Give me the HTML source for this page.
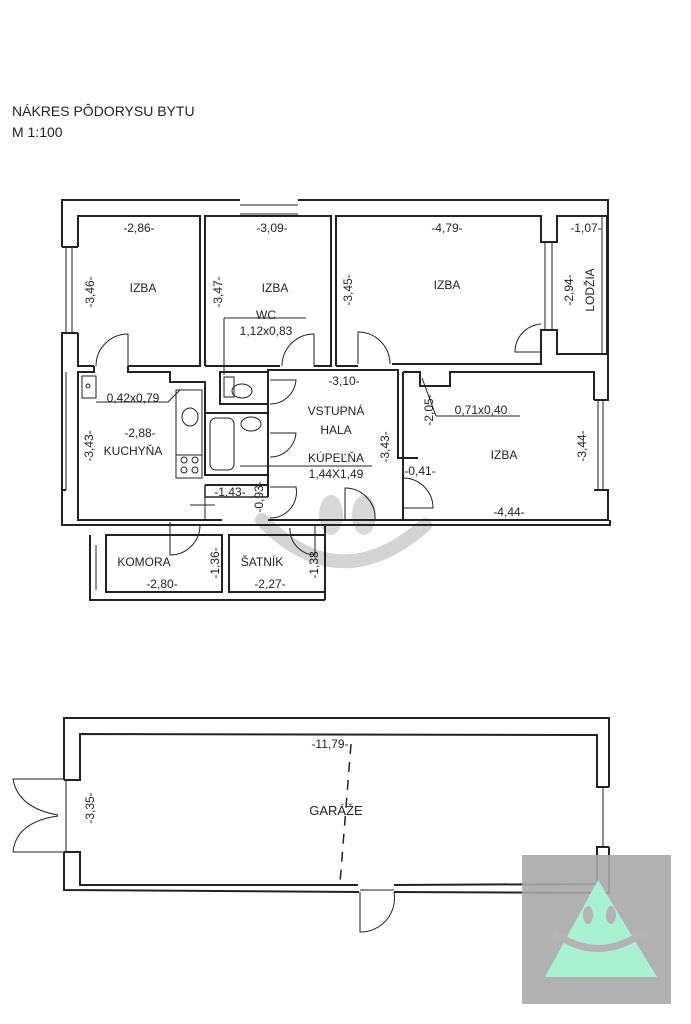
<!DOCTYPE html>
<html><head><meta charset="utf-8"><style>
html,body{margin:0;padding:0;background:#fff;}
svg{display:block}
text{font-family:"Liberation Sans",sans-serif;fill:#222;}
</style></head><body>
<svg width="691" height="1024" viewBox="0 0 691 1024" xmlns="http://www.w3.org/2000/svg">
<rect width="691" height="1024" fill="#fff"/>
<text x="12" y="116" font-size="14">NÁKRES PÔDORYSU BYTU</text>
<text x="12" y="137" font-size="14">M 1:100</text>

<!-- watermark -->
<g fill="none" stroke="#d4d4d4" stroke-width="14" stroke-linecap="round">
<path d="M262 520 Q340 600 425 525"/>
</g>
<ellipse cx="331" cy="515" rx="12" ry="20" fill="#d8d8d8"/>
<ellipse cx="364" cy="515" rx="12" ry="20" fill="#d8d8d8"/>

<g fill="none" stroke="#222" stroke-width="2">
<polyline points="62,247 62,200 240,200"/>
<polyline points="298,200 608,200 608,400"/>
<line x1="240" y1="205" x2="298" y2="205" stroke-width="1"/>
<line x1="240" y1="214" x2="298" y2="214" stroke-width="1"/>
<polyline points="62,247 78,247"/>
<line x1="66" y1="247" x2="66" y2="333" stroke-width="1"/>
<line x1="72" y1="247" x2="72" y2="333" stroke-width="1"/>
<polyline points="78,333 62,333 62,490 66,490"/>
<polyline points="78,247 78,216 200,216 200,366 128,366"/>
<polyline points="78,333 78,366 94,366"/>
<polyline points="205,366 205,216 331,216 331,366 314,366"/>
<polyline points="205,366 280,366"/>
<polyline points="336,366 336,216 541,216 541,242 557,242 557,216 607,216 607,354 557,354 557,330 541,330 541,364 392,364"/>
<polyline points="336,366 358,366"/>
<line x1="545" y1="242" x2="545" y2="330" stroke-width="1"/>
<line x1="552" y1="242" x2="552" y2="330" stroke-width="1"/>
<line x1="602" y1="216" x2="602" y2="354" stroke-width="1"/>
<polyline points="608,354 608,400 594,400"/>

<polyline points="94,366 94,372 78,372 78,520 222,520"/>
<polyline points="128,366 128,372 170,372 170,382 205,382 205,413"/>
<polyline points="62,490 62,525 78,525"/>
<line x1="66" y1="372" x2="66" y2="490" stroke-width="1"/>
<rect x="205" y="413" width="63" height="62" stroke-width="2"/>
<rect x="210" y="418" width="24" height="52" rx="6" stroke-width="1"/>
<ellipse cx="251" cy="424" rx="10" ry="7" stroke-width="1"/>
<polyline points="205,485 205,497 268,497" stroke-width="1.5"/>
<polyline points="205,485 268,485"/>
<rect x="220" y="372" width="48" height="32" stroke-width="2"/>
<rect x="224" y="377" width="10" height="20" stroke-width="1"/>
<ellipse cx="242" cy="391" rx="10" ry="7" stroke-width="1"/>
<rect x="176" y="390" width="26" height="88" stroke-width="1"/>
<line x1="176" y1="455" x2="202" y2="455" stroke-width="1"/>
<ellipse cx="190" cy="417" rx="8" ry="9" stroke-width="1"/>
<circle cx="184" cy="460" r="3" stroke-width="1"/><circle cx="195" cy="460" r="3" stroke-width="1"/>
<circle cx="184" cy="470" r="3" stroke-width="1"/><circle cx="195" cy="470" r="3" stroke-width="1"/>
<rect x="82" y="376" width="14" height="22" stroke-width="1"/>
<circle cx="88" cy="386" r="2" stroke-width="1"/>
<polyline points="270,370 398,370 398,458 403,458 403,520 268,520"/>
<polyline points="268,497 268,370 270,370"/>
<polyline points="403,372 403,520 594,520"/>
<polyline points="403,372 420,372 420,386 450,386 450,372 594,372 594,400"/>
<polyline points="594,490 608,490 608,520 594,520"/>
<line x1="598" y1="400" x2="598" y2="490" stroke-width="1"/>
<line x1="603" y1="400" x2="603" y2="490" stroke-width="1"/>
<polyline points="403,458 418,458"/>
<polyline points="78,525 610,525 610,520"/>
<polyline points="90,535 90,600 325,600"/>
<rect x="106" y="535" width="116" height="57"/>
<rect x="229" y="535" width="96" height="57"/>
<line x1="96" y1="545" x2="96" y2="590" stroke-width="1"/>
<polyline points="325,525 325,600"/>

<g stroke-width="1">
<path d="M128 366 L128 334 A32 32 0 0 0 96 366"/>
<path d="M314 366 L314 334 A32 32 0 0 0 282 366"/>
<path d="M358 364 L358 332 A32 32 0 0 1 390 364"/>
<path d="M541 324 A28 28 0 0 0 515 352 L541 352"/>
<path d="M270 380 L296 380 A26 26 0 0 1 270 404"/>
<path d="M270 433 L296 433 A26 26 0 0 1 270 457"/>
<path d="M270 487 L296 487 A26 26 0 0 1 270 518"/>
<path d="M345 520 L345 488 A30 30 0 0 1 375 520"/>
<path d="M403 478 A30 30 0 0 1 433 508 L403 508"/>
<path d="M170 522 L170 555 A30 30 0 0 0 200 525"/>
<path d="M315 525 L315 555 A26 26 0 0 1 290 528"/>
</g>
<g stroke-width="1">
<polyline points="96,402 168,402 180,390"/>
<polyline points="224,318 306,318"/>
<line x1="224" y1="318" x2="224" y2="375"/>
<polyline points="436,416 520,416"/>
<line x1="436" y1="416" x2="422" y2="378"/>
<line x1="240" y1="466" x2="372" y2="466"/>
<line x1="190" y1="505" x2="215" y2="505"/>
<line x1="205" y1="497" x2="205" y2="520"/>
</g>

<!-- GARAGE -->
<polyline points="64,780 64,718 609,718 609,787"/>
<polyline points="64,852 64,890 359,892"/>
<polyline points="394,892 609,893 609,847"/>
<polyline points="64,780 80,780 80,734 597,735 597,787 609,787"/>
<polyline points="64,852 80,852 80,885 358,885"/>
<polyline points="394,885 597,884 597,847 609,847"/>
<line x1="603" y1="787" x2="603" y2="847" stroke-width="1"/>
<line x1="66" y1="780" x2="66" y2="852" stroke-width="1"/>
<g stroke-width="1">
<path d="M64 779 L13 779 Q18 808 58 815"/>
<path d="M64 852 L13 852 Q16 822 58 816"/>
<path d="M360 892 L360 932 A34 34 0 0 0 394 892"/>
<line x1="360" y1="890" x2="394" y2="890"/>
</g>
<line x1="351" y1="744" x2="340" y2="883" stroke-width="1.5" stroke-dasharray="10 8"/>
</g>

<g font-size="12" text-anchor="middle">
<text x="139" y="232">-2,86-</text>
<text x="272" y="232">-3,09-</text>
<text x="447" y="232">-4,79-</text>
<text x="586" y="232">-1,07-</text>
<text x="143" y="292">IZBA</text>
<text x="275" y="292">IZBA</text>
<text x="447" y="289">IZBA</text>
<text x="266" y="319">WC</text>
<text x="266" y="335">1,12x0,83</text>
<text x="133" y="402">0,42x0,79</text>
<text x="344" y="385">-3,10-</text>
<text x="336" y="415">VSTUPNÁ</text>
<text x="336" y="434">HALA</text>
<text x="336" y="462">KÚPEĽŇA</text>
<text x="336" y="478">1,44X1,49</text>
<text x="140" y="437">-2,88-</text>
<text x="133" y="455">KUCHYŇA</text>
<text x="230" y="496">-1,43-</text>
<text x="481" y="414">0,71x0,40</text>
<text x="504" y="459">IZBA</text>
<text x="509" y="516">-4,44-</text>
<text x="420" y="475">-0,41-</text>
<text x="144" y="566">KOMORA</text>
<text x="162" y="588">-2,80-</text>
<text x="262" y="566">ŠATNÍK</text>
<text x="270" y="588">-2,27-</text>
<text x="330" y="748">-11,79-</text>
<text x="336" y="815" font-size="13">GARÁŽE</text>
</g>
<g font-size="12" text-anchor="middle">
<text transform="translate(94,292) rotate(-90)">-3,46-</text>
<text transform="translate(222,292) rotate(-90)">-3,47-</text>
<text transform="translate(352,290) rotate(-90)">-3,45-</text>
<text transform="translate(573,290) rotate(-90)">-2,94-</text>
<text transform="translate(594,290) rotate(-90)">LODŽIA</text>
<text transform="translate(93,446) rotate(-90)">-3,43-</text>
<text transform="translate(389,447) rotate(-90)">-3,43-</text>
<text transform="translate(433,410) rotate(-90)">-2,05-</text>
<text transform="translate(586,446) rotate(-90)">-3,44-</text>
<text transform="translate(263,497) rotate(-90)">-0,93-</text>
<text transform="translate(219,563) rotate(-90)">-1,36-</text>
<text transform="translate(318,563) rotate(-90)">-1,38-</text>
<text transform="translate(94,808) rotate(-90)">-3,35-</text>
</g>

<rect x="522" y="855" width="149" height="149" fill="#a8a8a8" fill-opacity="0.9"/>
<polygon points="598,880 545,977 657,977" fill="#a8f2d2"/>
<ellipse cx="588" cy="915" rx="5" ry="9" fill="#b4b4b4"/>
<ellipse cx="611" cy="915" rx="5" ry="9" fill="#b4b4b4"/>
<path d="M553 932 Q598 965 644 932" fill="none" stroke="#b4b4b4" stroke-width="7"/>
</svg>
</body></html>
